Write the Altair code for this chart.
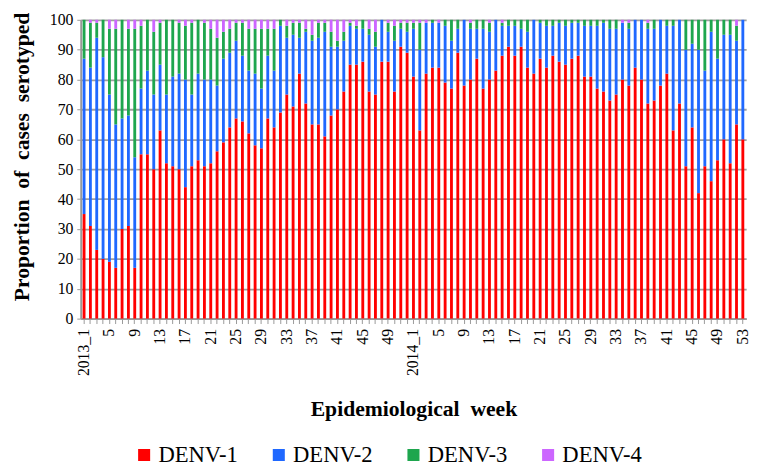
import altair as alt
import pandas as pd

weeks_2013 = list(range(1, 53))
weeks_2014 = list(range(1, 54))
categories = [f"2013_{w}" for w in weeks_2013] + [f"2014_{w}" for w in weeks_2014]

denv1 = [35, 31, 23, 20, 19, 17, 30, 31, 17, 55, 55, 50, 63, 52, 51, 50, 44, 51, 53, 51,
         52, 56, 59, 64, 67, 66, 62, 58, 57, 67, 64, 69, 75, 71, 82, 72, 65, 65, 61, 68,
         70, 76, 85, 85, 86, 76, 75, 86, 86, 76, 91, 89,
         81, 63, 82, 84, 84, 79, 77, 89, 78, 80, 87, 77, 80, 83, 88, 91, 88, 91, 84, 82,
         87, 84, 88, 86, 85, 87, 88, 81, 81, 77, 76, 73, 75, 80, 78, 84, 80, 72, 73, 78,
         82, 63, 72, 51, 64, 42, 51, 46, 53, 60, 52, 65, 60]
denv2 = [52, 53, 71, 67.5, 56, 48, 37, 37, 37, 22, 28, 25, 22, 23, 30, 32, 36, 24, 29, 29,
         28, 22, 28, 25, 26, 22, 21, 24, 20, 21, 19, 29, 19, 24, 12, 24, 28, 29, 35, 23,
         21, 17, 13, 12, 11, 19, 16, 14, 10, 17, 6, 7,
         16, 27, 17, 15, 15, 19, 16, 8, 22, 17, 10, 20, 16, 17, 10, 7, 10, 6, 12, 18,
         12, 14, 10, 13, 13, 12, 11, 17, 17, 21, 23, 24, 22, 19, 19, 16, 20, 25, 24, 22,
         16, 35, 28, 39, 28, 48, 32, 50, 34, 35, 43, 28, 40]
denv3 = [13, 15, 5, 12.5, 22, 32, 33, 29, 43, 21, 17, 21, 14, 25, 19, 17, 18, 24, 18, 19,
         17, 16, 9, 8, 6, 11, 14, 15, 20, 9, 14, 2, 4, 4, 5, 1, 2, 5, 3, 5,
         2, 3, 1, 1, 3, 2, 5, 0, 3, 5, 2, 3,
         2, 9, 0, 1, 0, 2, 7, 3, 0, 2, 3, 3, 3, 0, 1, 2, 2, 3, 4, 0,
         1, 2, 2, 1, 2, 1, 1, 2, 2, 2, 1, 3, 3, 0, 2, 0, 0, 2, 3, 0,
         2, 2, 0, 10, 8, 10, 17, 4, 13, 5, 5, 5, 0]
denv4 = [0, 1, 1, 0, 3, 3, 0, 3, 3, 2, 0, 4, 1, 0, 0, 1, 2, 1, 0, 1,
         3, 6, 4, 3, 1, 1, 3, 3, 3, 3, 3, 0, 2, 1, 1, 3, 5, 1, 1, 4,
         7, 4, 1, 2, 0, 3, 4, 0, 1, 2, 1, 1,
         1, 1, 1, 0, 1, 0, 0, 0, 0, 1, 0, 0, 1, 0, 1, 0, 0, 0, 0, 0,
         0, 0, 0, 0, 0, 0, 0, 0, 0, 0, 0, 0, 0, 1, 1, 0, 0, 1, 0, 0,
         0, 0, 0, 0, 0, 0, 0, 0, 0, 0, 0, 2, 0]

serotypes = ["DENV-1", "DENV-2", "DENV-3", "DENV-4"]
colors = ["#ff0000", "#1f68ff", "#1ea64e", "#cc66ff"]

rows = []
for i, cat in enumerate(categories):
    for k, (name, vals) in enumerate(zip(serotypes, [denv1, denv2, denv3, denv4])):
        rows.append({"week": cat, "serotype": name, "value": vals[i], "order": k})
df = pd.DataFrame(rows)

label_expr = ("toNumber(split(datum.value,'_')[1]) == 1 ? datum.value : "
              "((toNumber(split(datum.value,'_')[1]) - 1) % 4 == 0 ? split(datum.value,'_')[1] : '')")

serif = "Liberation Serif"

chart = alt.Chart(df).mark_bar().encode(
    x=alt.X("week:N", sort=categories,
            scale=alt.Scale(paddingInner=0.55, paddingOuter=0.3),
            axis=alt.Axis(title="Epidemiological\u00a0\u00a0week", labelExpr=label_expr,
                          labelAngle=270, labelAlign="right", labelBaseline="middle",
                          labelOverlap=False, labelFont=serif, labelFontSize=16,
                          labelColor="#000000", labelPadding=5,
                          titleFont=serif, titleFontSize=22, titleFontWeight="bold",
                          titleColor="#000000", titlePadding=24,
                          tickColor="#999999", tickSize=5, domainColor="#999999",
                          domainWidth=2, grid=False)),
    y=alt.Y("value:Q", stack="zero",
            scale=alt.Scale(domain=[0, 100], nice=False),
            axis=alt.Axis(title="Proportion\u00a0\u00a0of\u00a0\u00a0cases\u00a0\u00a0serotyped",
                          values=list(range(0, 101, 10)), labelFont=serif,
                          labelFontSize=16, labelColor="#000000", labelPadding=4,
                          titleFont=serif, titleFontSize=22, titleFontWeight="bold",
                          titleColor="#000000", titlePadding=16, titleY=139,
                          tickColor="#999999", tickSize=4, domainColor="#999999",
                          domainWidth=2, gridColor="#a0a0a0", gridWidth=1.8)),
    color=alt.Color("serotype:N", scale=alt.Scale(domain=serotypes, range=colors),
                    legend=alt.Legend(title=None, orient="none", direction="horizontal",
                                      legendX=53, legendY=431,
                                      symbolType="square", symbolSize=150,
                                      symbolStrokeWidth=0, labelFont=serif,
                                      labelFontSize=23, labelColor="#000000",
                                      labelOffset=3, columnPadding=30)),
    order=alt.Order("order:Q", sort="ascending"),
).properties(
    width=677, height=304,
    padding={"left": 2, "top": 0, "right": 5, "bottom": 0},
).configure_view(stroke=None)

chart.save("out.html", embed_options={"renderer": "svg", "actions": False})
